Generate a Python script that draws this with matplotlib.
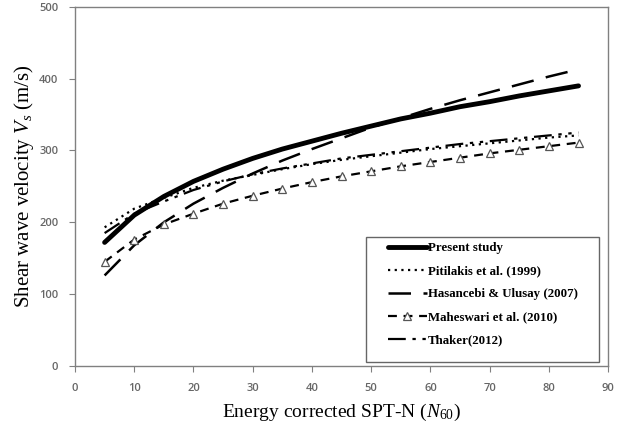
import matplotlib
matplotlib.use("Agg")
import matplotlib.pyplot as plt
from matplotlib.patches import Rectangle

plt.rcParams["mathtext.fontset"] = "custom"
plt.rcParams["mathtext.it"] = "Liberation Serif:italic"
plt.rcParams["mathtext.rm"] = "Liberation Serif"

# SPT-N values (N60)
n60 = [5, 10, 15, 20, 25, 30, 35, 40, 45, 50, 55, 60, 65, 70, 75, 80, 85]

# shear wave velocity Vs (m/s)
present = [172, 210, 236, 257, 274, 289, 302, 313, 324, 334, 344, 352, 361, 368, 376, 383, 390]
pitilakis = [193, 219, 234, 248, 258, 266, 274, 281, 287, 292, 297, 302, 306, 310, 314, 318, 321]
hasancebi = [126, 168, 200, 226, 248, 268, 286, 302, 317, 332, 345, 358, 370, 381, 392, 403, 413]
maheswari = [145, 176, 197, 212, 226, 237, 247, 256, 264, 271, 278, 284, 290, 296, 301, 306, 311]
thaker = [185, 212, 229, 245, 257, 267, 275, 282, 289, 294, 299, 304, 309, 313, 317, 321, 325]

labels = ["Present study", "Pitilakis et al. (1999)", "Hasancebi & Ulusay (2007)",
          "Maheswari et al. (2010)", "Thaker(2012)"]

fig = plt.figure(figsize=(6.25, 4.3), dpi=100)
ax = fig.add_axes([0.12, 0.149, 0.853, 0.835])

ax.plot(n60, present, color="black", lw=3.5, solid_capstyle="round", label=labels[0])
ax.plot(n60, pitilakis, color="black", lw=1.6, linestyle=(0, (1, 2)), label=labels[1])
ax.plot(n60, hasancebi, color="black", lw=1.8, linestyle=(0, (9, 5)), label=labels[2])
ax.plot(n60, maheswari, color="black", lw=1.6, linestyle=(0, (4, 3)), marker="^",
        markersize=6, markerfacecolor="white", markeredgecolor="#555555",
        markeredgewidth=0.9, label=labels[3])
ax.plot(n60, thaker, color="black", lw=1.6, linestyle=(0, (8, 3, 1.5, 3, 1.5, 3)),
        label=labels[4])

ax.set_xlim(0, 90)
ax.set_ylim(0, 500)
ax.set_xticks(range(0, 91, 10))
ax.set_yticks(range(0, 501, 100))
for s in ax.spines.values():
    s.set_color("#808080")
    s.set_linewidth(1.0)
ax.tick_params(direction="out", length=4, color="#808080", pad=8,
               labelsize=8, labelcolor="#666666")
for t in ax.get_xticklabels() + ax.get_yticklabels():
    t.set_family("Open Sans")
    t.set_weight("semibold")

ax.set_xlabel(r"Energy corrected SPT-N ($N_{60}$)", family="Liberation Serif",
              fontsize=14, labelpad=6)
ax.set_ylabel(r"Shear wave velocity $V_s$ (m/s)", family="Liberation Serif",
              fontsize=15, labelpad=2)

# legend box drawn separately so the padding matches
ax.add_patch(Rectangle((0.546, 0.011), 0.437, 0.348, transform=ax.transAxes,
                       facecolor="white", edgecolor="#666666", lw=1.0, zorder=3))
leg = ax.legend(loc="upper left", bbox_to_anchor=(0.587, 0.345), frameon=False,
                borderpad=0, borderaxespad=0, handlelength=3.0, handletextpad=0.1,
                labelspacing=0.85, prop={"family": "Liberation Serif",
                                         "weight": "bold", "size": 9.3})
leg.set_zorder(4)

fig.savefig("out.png", dpi=100)
